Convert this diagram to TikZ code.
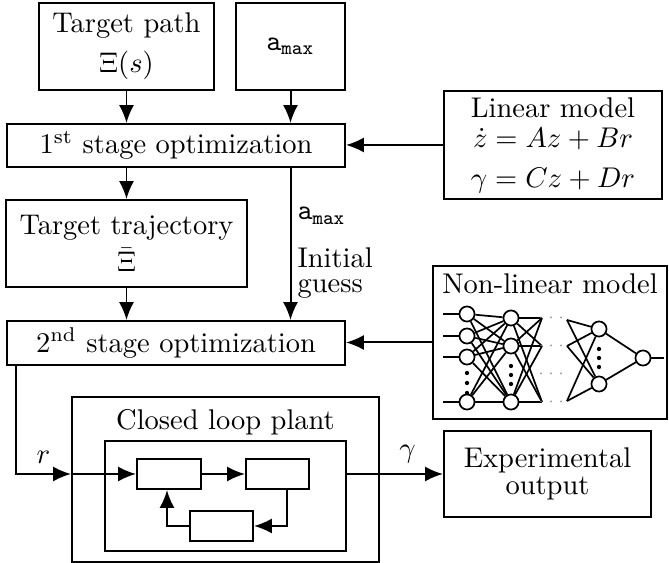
\documentclass[tikz,border=0pt]{standalone}
\usepackage{amsmath}
\usepackage{amssymb}
\usetikzlibrary{arrows.meta, calc}

\newcommand{\pxu}{0.351pt}

\tikzset{
    blk/.style={draw, line width=0.7pt, inner sep=0pt, align=center},
    arr/.style={-{Latex[length=6.3pt, width=5.3pt]}, line width=0.7pt},
    neuron/.style={draw, circle, minimum size=5.3pt, inner sep=0pt, line width=0.6pt},
    nnline/.style={line width=0.6pt}
}

\begin{document}
\begin{tikzpicture}[x=\pxu, y=-\pxu]
        \useasboundingbox (0, 0) rectangle (669, 563);
        % optimization chain
        \node[blk, minimum width=175*\pxu, minimum height=87*\pxu] (path) at (126.5, 46.5) {Target path\\[2pt]$\Xi(s)$};
        \node[blk, minimum width=109*\pxu, minimum height=87*\pxu] (amax) at (290.5, 46.5) {$\mathtt{a}_{\mathtt{max}}$};
        \node[blk, minimum width=338*\pxu, minimum height=43*\pxu] (stage1) at (176, 145.5) {1$^{\mathrm{st}}$ stage optimization};
        \node[blk, minimum width=218*\pxu, minimum height=108*\pxu] (linear) at (553, 145) {Linear model\\[-1.5pt]$\dot{z} = Az + Br$\\[2pt]$\gamma = Cz + Dr$};
        \node[blk, minimum width=241*\pxu, minimum height=87*\pxu] (traj) at (126.5, 243.5) {Target trajectory\\[1pt]$\bar{\Xi}$};
        \node[blk, minimum width=338*\pxu, minimum height=44*\pxu] (stage2) at (176, 343) {2$^{\mathrm{nd}}$ stage optimization};
        \node[blk, minimum width=234*\pxu, minimum height=153*\pxu] (nonlin) at (550, 342.5) {};
        \node (nonlinlab) at (550, 284) {Non-linear model};

        \draw[arr] (path.south) -- (path.south |- stage1.north);
        \draw[arr] (amax.south) -- (amax.south |- stage1.north);
        \draw[arr] (linear.west) -- (linear.west -| stage1.east);
        \draw[arr] (stage1.south -| traj.north) -- (traj.north);
        \draw[arr] (traj.south) -- (traj.south |- stage2.north);
        \draw[arr] (stage1.south -| amax.south) -- (stage2.north -| amax.south);
        \draw[arr] (nonlin.west) -- (nonlin.west -| stage2.east);
        \node[anchor=west, inner sep=0pt] (amaxlab) at (297, 216) {$\mathtt{a}_{\mathtt{max}}$};
        \node[anchor=west, inner sep=0pt, align=left] (guess) at (297, 273) {Initial\\[-3pt]guess};

        % network
        \begin{scope}
            \foreach \i/\y in {1/314, 2/336, 3/357, 4/402} {
                \node[neuron] (a\i) at (467, \y) {};
                \coordinate (in\i) at (443, \y);
                \draw[nnline] (in\i) -- (a\i);
            }
            \foreach \j/\y in {1/318, 2/346, 3/402} {
                \node[neuron] (b\j) at (511, \y) {};
                \coordinate (p\j) at (542, \y);
            }
            \foreach \j/\y in {1/320, 2/346, 3/401}
                \coordinate (q\j) at (567, \y);
            \node[neuron] (c1) at (599, 329) {};
            \node[neuron] (c2) at (599, 384) {};
            \node[neuron] (out) at (643, 358) {};
            \coordinate (outend) at (664, 358);
            \foreach \i in {1,...,4}
                \foreach \j in {1,2,3}
                    \draw[nnline] (a\i) -- (b\j);
            \foreach \j in {1,2,3}
                \foreach \k in {1,2,3}
                    \draw[nnline] (b\j) -- (p\k);
            \foreach \k in {1,2,3}
                \foreach \m in {1,2}
                    \draw[nnline] (q\k) -- (c\m);
            \draw[nnline] (c1) -- (out);
            \draw[nnline] (c2) -- (out);
            \draw[nnline] (out) -- (outend);
            \foreach \y in {373, 383, 393}
                \fill (467, \y) circle (0.75pt);
            \foreach \y in {366, 375, 384}
                \fill (511, \y) circle (0.75pt);
            \foreach \y in {349, 358, 367}
                \fill (599, \y) circle (0.75pt);
            \foreach \y in {318, 346, 374, 402}
                \node[font=\tiny, text=gray, inner sep=0pt] at (553, \y) {$\cdots$};
        \end{scope}

        % closed loop plant
        \node[blk, minimum width=307*\pxu, minimum height=165*\pxu] (plantout) at (225.5, 479.5) {};
        \node (plantlab) at (225.5, 422) {Closed loop plant};
        \node[blk, minimum width=241*\pxu, minimum height=110*\pxu] (plantin) at (225.5, 496) {};
        \node[blk, minimum width=64*\pxu, minimum height=30*\pxu] (ca) at (169, 474) {};
        \node[blk, minimum width=63*\pxu, minimum height=30*\pxu] (cb) at (277.5, 474) {};
        \node[blk, minimum width=63*\pxu, minimum height=30*\pxu] (cc) at (221.5, 526) {};
        \node[blk, minimum width=207*\pxu, minimum height=86*\pxu] (exp) at (547.5, 474) {Experimental\\[-2.5pt]output};

        \coordinate (rstart) at ($(stage2.south west) + (10, 0)$);
        \draw[arr] (rstart) |- (plantout.west |- ca.west) node[pos=0.75, above] {$r$};
        \draw[arr] (plantout.west |- ca.west) -- (ca.west);
        \draw[arr] (ca) -- (cb);
        \draw[arr] ($(cb.south) + (9, 0)$) |- (cc.east);
        \draw[arr] (cc.west) -| ($(ca.south) + (-2, 0)$);
        \draw[arr] (plantin.east |- exp.west) -- (exp.west) node[pos=0.63, above] {$\gamma$};
\end{tikzpicture}
\end{document}
